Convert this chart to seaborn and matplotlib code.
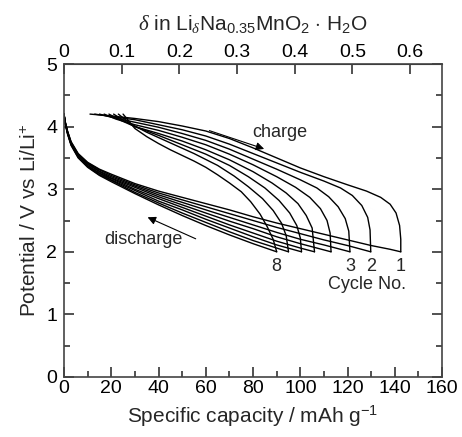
import numpy as np
import pandas as pd
import seaborn as sns
import matplotlib
matplotlib.use('Agg')
import matplotlib.pyplot as plt
from matplotlib.ticker import MultipleLocator

sns.set_style('ticks')
plt.rcParams['font.family'] = ['Liberation Sans', 'DejaVu Sans']
plt.rcParams['mathtext.fontset'] = 'custom'
plt.rcParams['mathtext.rm'] = 'Liberation Sans'
plt.rcParams['mathtext.it'] = 'Liberation Serif:italic'

# discharge branch: common capacity grid, then a tail for each cycle
dis_q = [0, 0.5, 1.5, 3, 6, 10, 15, 20, 30, 40, 50, 60, 70, 80]
dis_v = {
    1: [4.2, 4.08, 3.93, 3.76, 3.57, 3.43, 3.32, 3.24, 3.09, 2.97, 2.87, 2.77, 2.67, 2.56],
    2: [4.2, 4.08, 3.92, 3.75, 3.56, 3.42, 3.31, 3.22, 3.07, 2.94, 2.83, 2.72, 2.61, 2.50],
    3: [4.2, 4.07, 3.92, 3.74, 3.55, 3.41, 3.29, 3.20, 3.05, 2.91, 2.79, 2.67, 2.55, 2.43],
    4: [4.2, 4.07, 3.91, 3.73, 3.54, 3.40, 3.28, 3.18, 3.03, 2.88, 2.75, 2.62, 2.49, 2.37],
    5: [4.2, 4.06, 3.90, 3.72, 3.53, 3.38, 3.26, 3.17, 3.00, 2.85, 2.71, 2.57, 2.43, 2.30],
    6: [4.2, 4.06, 3.90, 3.72, 3.52, 3.37, 3.25, 3.15, 2.98, 2.81, 2.67, 2.52, 2.38, 2.24],
    7: [4.2, 4.05, 3.89, 3.71, 3.51, 3.36, 3.23, 3.14, 2.95, 2.78, 2.62, 2.47, 2.32, 2.18],
    8: [4.2, 4.05, 3.88, 3.70, 3.50, 3.35, 3.22, 3.12, 2.93, 2.75, 2.58, 2.42, 2.27, 2.13],
}
dis_tail = {
    1: [(90, 2.46), (100, 2.37), (110, 2.28), (120, 2.19), (130, 2.10), (138, 2.04), (142.5, 2.0)],
    2: [(90, 2.39), (100, 2.29), (110, 2.19), (120, 2.10), (129.8, 2.0)],
    3: [(90, 2.31), (100, 2.20), (110, 2.11), (121, 2.0)],
    4: [(90, 2.24), (100, 2.13), (113, 2.0)],
    5: [(90, 2.17), (100, 2.06), (106, 2.0)],
    6: [(90, 2.11), (100.5, 2.0)],
    7: [(90, 2.06), (95, 2.0)],
    8: [(90, 2.0)],
}

# charge branch, from 4.2 V down to the 2.0 V end point of each cycle
chg = {
    1: [(11, 4.2), (20, 4.17), (30, 4.13), (40, 4.08), (50, 4.01), (60, 3.93), (70, 3.81), (80, 3.66),
        (90, 3.50), (100, 3.34), (110, 3.20), (120, 3.07), (128, 2.97), (134, 2.87), (138, 2.76),
        (140.5, 2.62), (142, 2.42), (142.5, 2.2), (142.5, 2.0)],
    2: [(13, 4.2), (20, 4.16), (30, 4.11), (40, 4.03), (50, 3.95), (60, 3.85), (70, 3.72), (80, 3.57),
        (90, 3.42), (100, 3.27), (110, 3.13), (117, 3.02), (122, 2.90), (126, 2.74), (128.5, 2.55),
        (129.5, 2.35), (129.8, 2.0)],
    3: [(15, 4.2), (20, 4.15), (30, 4.07), (40, 3.99), (50, 3.89), (60, 3.78), (70, 3.64), (80, 3.48),
        (90, 3.32), (100, 3.15), (107, 3.02), (112, 2.88), (116, 2.72), (119, 2.53), (120.5, 2.33),
        (121, 2.0)],
    4: [(17, 4.2), (22, 4.12), (30, 4.03), (40, 3.94), (50, 3.83), (60, 3.71), (70, 3.56), (80, 3.39),
        (90, 3.20), (98, 3.03), (104, 2.87), (108.5, 2.69), (111.3, 2.5), (112.6, 2.3), (113, 2.0)],
    5: [(19, 4.2), (24, 4.10), (30, 4.0), (40, 3.89), (50, 3.77), (60, 3.63), (70, 3.47), (80, 3.28),
        (88, 3.10), (94, 2.94), (99, 2.77), (102.5, 2.58), (105, 2.38), (106, 2.0)],
    6: [(21, 4.2), (26, 4.08), (30, 4.0), (40, 3.86), (50, 3.71), (60, 3.56), (70, 3.38), (78, 3.20),
        (85, 3.02), (91, 2.82), (95.5, 2.62), (98.5, 2.42), (100, 2.22), (100.5, 2.0)],
    7: [(23, 4.2), (28, 4.05), (35, 3.91), (45, 3.74), (55, 3.57), (65, 3.38), (72, 3.21), (78, 3.04),
        (84, 2.85), (88.5, 2.66), (92, 2.46), (94, 2.26), (95, 2.0)],
    8: [(25, 4.2), (30, 3.97), (35, 3.84), (40, 3.73), (45, 3.63), (50, 3.54), (55, 3.45), (60, 3.35),
        (65, 3.23), (70, 3.10), (75, 2.96), (79, 2.80), (83, 2.60), (86, 2.40), (88.5, 2.2), (90, 2.0)],
}

cycle_labels = ['8', '3', '2', '1']
cycle_label_q = [90, 121, 129.8, 142.5]
delta_ticks = [0, 0.1, 0.2, 0.3, 0.4, 0.5, 0.6]
delta_per_cap = 1 / 244.0   # x in Li_x per mAh/g

rows = []
for c in dis_v:
    pts = list(zip(dis_q, dis_v[c])) + dis_tail[c]
    for i, (q, v) in enumerate(pts):
        rows.append(dict(seg='d%d' % c, i=i, q=q, v=v))
    for i, (q, v) in enumerate(chg[c]):
        rows.append(dict(seg='c%d' % c, i=i, q=q, v=v))
df = pd.DataFrame(rows)

fig = plt.figure(figsize=(4.62, 4.37), dpi=100)
ax = fig.add_axes([0.1385, 0.1373, 0.8185, 0.7162])

sns.lineplot(data=df, x='q', y='v', units='seg', estimator=None, sort=False,
             color='black', lw=1.0, ax=ax)

ax.set_xlim(0, 160)
ax.set_ylim(0, 5)
ax.xaxis.set_major_locator(MultipleLocator(20))
ax.xaxis.set_minor_locator(MultipleLocator(10))
ax.yaxis.set_major_locator(MultipleLocator(1))
ax.yaxis.set_minor_locator(MultipleLocator(0.5))
ax.tick_params(which='both', direction='in', right=True, labelsize=14, width=1.2,
               colors='#333333', labelcolor='black')
ax.tick_params(axis='x', pad=2)
ax.tick_params(axis='y', pad=5)
ax.tick_params(which='major', length=7)
ax.tick_params(which='minor', length=4)
for s in ax.spines.values():
    s.set_linewidth(1.2)
    s.set_color('#444444')

ax.set_xlabel('Specific capacity / mAh g$^{-1}$', fontsize=15, labelpad=5)
ax.set_ylabel('Potential / V vs Li/Li$^{+}$', fontsize=15, labelpad=4)

top = ax.secondary_xaxis('top', functions=(lambda q: q * delta_per_cap, lambda d: d / delta_per_cap))
top.set_xticks(delta_ticks)
top.set_xticklabels([('%g' % d) for d in delta_ticks])
top.tick_params(direction='in', length=7, width=1.2, labelsize=14, pad=2, colors='#333333',
                labelcolor='black')
top.set_xlabel(r'$\delta$ in Li$_{\delta}$Na$_{0.35}$MnO$_{2}$ $\cdot$ H$_{2}$O', fontsize=15, labelpad=10)

# annotations
ax.annotate('', xy=(85.8, 3.63), xytext=(60.4, 3.95),
            arrowprops=dict(arrowstyle='-|>', color='black', lw=0.8, mutation_scale=12))
ax.text(91.5, 3.9, 'charge', fontsize=13, ha='center', va='center')
ax.annotate('', xy=(34.3, 2.57), xytext=(56.8, 2.19),
            arrowprops=dict(arrowstyle='-|>', color='black', lw=0.8, mutation_scale=12))
ax.text(33.7, 2.2, 'discharge', fontsize=13, ha='center', va='center')
for lab, q in zip(cycle_labels, cycle_label_q):
    ax.text(q, 1.77, lab, fontsize=13, ha='center', va='center')
ax.text(128.3, 1.47, 'Cycle No.', fontsize=13, ha='center', va='center')

fig.savefig('out.png', dpi=100)
